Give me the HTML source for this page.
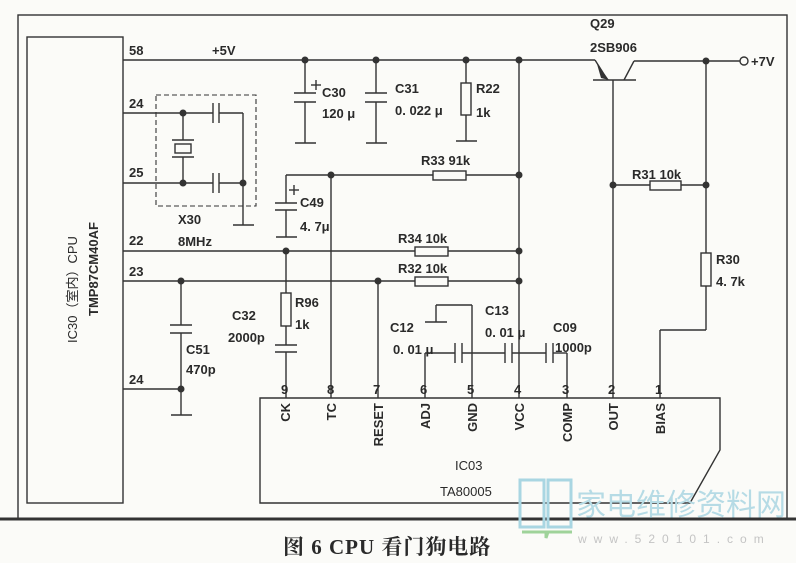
<!DOCTYPE html>
<html><head><meta charset="utf-8"><style>
html,body{margin:0;padding:0;background:#fbfbf8;}
svg{display:block}
text{font-family:"Liberation Sans","Noto Sans CJK SC",sans-serif;fill:#2a2a2a;font-size:13px;font-weight:bold;}
</style></head><body>
<svg width="796" height="563" viewBox="0 0 796 563" xmlns="http://www.w3.org/2000/svg">
<g stroke="#333" stroke-width="1.4" fill="none">
<rect x="18" y="15" width="769" height="504"/>
<line x1="0" y1="519" x2="796" y2="519" stroke-width="3"/>
<rect x="27" y="37" width="96" height="466"/>
<line x1="123" y1="60" x2="595" y2="60"/>
<line x1="305" y1="60" x2="305" y2="93"/><line x1="294" y1="93" x2="316" y2="93"/><line x1="294" y1="102" x2="316" y2="102"/><line x1="305" y1="102" x2="305" y2="143"/><line x1="295" y1="143" x2="316" y2="143"/>
<line x1="311" y1="85" x2="321" y2="85"/><line x1="316" y1="80" x2="316" y2="90"/>
<line x1="376" y1="60" x2="376" y2="93"/><line x1="365" y1="93" x2="387" y2="93"/><line x1="365" y1="102" x2="387" y2="102"/><line x1="376" y1="102" x2="376" y2="143"/><line x1="366" y1="143" x2="387" y2="143"/>
<line x1="466" y1="60" x2="466" y2="141"/><rect x="461" y="83" width="10" height="32" fill="#fbfbf8"/><line x1="456" y1="141" x2="477" y2="141"/>
<line x1="519" y1="60" x2="519" y2="398"/>
<line x1="595" y1="60" x2="607" y2="79"/><line x1="593" y1="80" x2="636" y2="80"/><line x1="624" y1="80" x2="634" y2="61"/>
<line x1="634" y1="61" x2="740" y2="61"/>
<circle cx="744" cy="61" r="4"/>
<line x1="613" y1="80" x2="613" y2="398"/>
<line x1="613" y1="185" x2="706" y2="185"/><rect x="650" y="181" width="31" height="9" fill="#fbfbf8"/>
<line x1="706" y1="61" x2="706" y2="330"/><rect x="701" y="253" width="10" height="33" fill="#fbfbf8"/>
<line x1="706" y1="330" x2="660" y2="330"/><line x1="660" y1="330" x2="660" y2="398"/>
<line x1="123" y1="113" x2="213" y2="113"/><line x1="123" y1="183" x2="213" y2="183"/>
<line x1="213" y1="103" x2="213" y2="123"/><line x1="219" y1="103" x2="219" y2="123"/>
<line x1="213" y1="173" x2="213" y2="193"/><line x1="219" y1="173" x2="219" y2="193"/>
<line x1="219" y1="113" x2="243" y2="113"/><line x1="243" y1="113" x2="243" y2="225"/><line x1="219" y1="183" x2="243" y2="183"/>
<line x1="233" y1="225" x2="254" y2="225"/>
<line x1="183" y1="113" x2="183" y2="140"/><line x1="183" y1="157" x2="183" y2="183"/>
<line x1="172" y1="140" x2="194" y2="140"/><line x1="172" y1="157" x2="194" y2="157"/><rect x="175" y="144" width="16" height="9"/>
<rect x="156" y="95" width="100" height="111" stroke-dasharray="5,3" stroke-width="1.1"/>
<line x1="286" y1="175" x2="519" y2="175"/><rect x="433" y="171" width="33" height="9" fill="#fbfbf8"/>
<line x1="286" y1="175" x2="286" y2="203"/><line x1="275" y1="203" x2="297" y2="203"/><line x1="275" y1="210" x2="297" y2="210"/><line x1="286" y1="210" x2="286" y2="237"/><line x1="276" y1="237" x2="297" y2="237"/>
<line x1="289" y1="190" x2="299" y2="190"/><line x1="294" y1="185" x2="294" y2="195"/>
<line x1="331" y1="175" x2="331" y2="398"/>
<line x1="123" y1="251" x2="519" y2="251"/><rect x="415" y="247" width="33" height="9" fill="#fbfbf8"/>
<line x1="286" y1="251" x2="286" y2="345"/><rect x="281" y="293" width="10" height="33" fill="#fbfbf8"/>
<line x1="275" y1="345" x2="297" y2="345"/><line x1="275" y1="352" x2="297" y2="352"/><line x1="286" y1="352" x2="286" y2="398"/>
<line x1="123" y1="281" x2="519" y2="281"/><rect x="415" y="277" width="33" height="9" fill="#fbfbf8"/>
<line x1="181" y1="281" x2="181" y2="325"/><line x1="170" y1="325" x2="192" y2="325"/><line x1="170" y1="333" x2="192" y2="333"/><line x1="181" y1="333" x2="181" y2="415"/><line x1="171" y1="415" x2="192" y2="415"/>
<line x1="123" y1="389" x2="181" y2="389"/>
<line x1="378" y1="281" x2="378" y2="398"/>
<line x1="425" y1="398" x2="425" y2="353"/><line x1="425" y1="353" x2="455" y2="353"/>
<line x1="455" y1="343" x2="455" y2="363"/><line x1="462" y1="343" x2="462" y2="363"/>
<line x1="462" y1="353" x2="505" y2="353"/>
<line x1="505" y1="343" x2="505" y2="363"/><line x1="512" y1="343" x2="512" y2="363"/>
<line x1="512" y1="353" x2="546" y2="353"/>
<line x1="546" y1="343" x2="546" y2="363"/><line x1="553" y1="343" x2="553" y2="363"/>
<line x1="553" y1="353" x2="567" y2="353"/><line x1="567" y1="353" x2="567" y2="398"/>
<line x1="472" y1="398" x2="472" y2="305"/><line x1="472" y1="305" x2="436" y2="305"/><line x1="436" y1="305" x2="436" y2="322"/><line x1="425" y1="322" x2="447" y2="322"/>
<path d="M260 398 H720 V450 L690 503 H260 Z"/>
</g>
<polygon points="597,64 609,80 601,78" fill="#333"/>
<g fill="#333">
<circle cx="305" cy="60" r="3.5"/><circle cx="376" cy="60" r="3.5"/><circle cx="466" cy="60" r="3.5"/><circle cx="519" cy="60" r="3.5"/>
<circle cx="706" cy="61" r="3.5"/><circle cx="613" cy="185" r="3.5"/><circle cx="706" cy="185" r="3.5"/>
<circle cx="183" cy="113" r="3.5"/><circle cx="183" cy="183" r="3.5"/><circle cx="243" cy="183" r="3.5"/>
<circle cx="331" cy="175" r="3.5"/><circle cx="519" cy="175" r="3.5"/><circle cx="286" cy="251" r="3.5"/><circle cx="519" cy="251" r="3.5"/>
<circle cx="181" cy="281" r="3.5"/><circle cx="378" cy="281" r="3.5"/><circle cx="519" cy="281" r="3.5"/><circle cx="181" cy="389" r="3.5"/>
</g>
<text x="129" y="55">58</text><text x="212" y="55">+5V</text>
<text x="129" y="108">24</text><text x="129" y="177">25</text><text x="129" y="245">22</text><text x="129" y="276">23</text><text x="129" y="384">24</text>
<text transform="translate(77,343) rotate(-90)" style="font-weight:normal">IC30（室内）CPU</text>
<text transform="translate(98,316) rotate(-90)">TMP87CM40AF</text>
<text x="322" y="97">C30</text><text x="322" y="118">120 μ</text>
<text x="395" y="93">C31</text><text x="395" y="115">0. 022 μ</text>
<text x="476" y="93">R22</text><text x="476" y="117">1k</text>
<text x="590" y="28">Q29</text><text x="590" y="52">2SB906</text><text x="751" y="66">+7V</text>
<text x="178" y="224">X30</text><text x="178" y="246">8MHz</text>
<text x="421" y="165">R33  91k</text>
<text x="300" y="207">C49</text><text x="300" y="231">4. 7μ</text>
<text x="398" y="243">R34  10k</text><text x="398" y="273">R32  10k</text>
<text x="632" y="179">R31  10k</text>
<text x="716" y="264">R30</text><text x="716" y="286">4. 7k</text>
<text x="295" y="307">R96</text><text x="295" y="329">1k</text>
<text x="232" y="320">C32</text><text x="228" y="342">2000p</text>
<text x="186" y="354">C51</text><text x="186" y="374">470p</text>
<text x="390" y="332">C12</text><text x="393" y="354">0. 01 μ</text>
<text x="485" y="315">C13</text><text x="485" y="337">0. 01 μ</text>
<text x="553" y="332">C09</text><text x="555" y="352">1000p</text>
<g><text x="281" y="394">9</text><text x="327" y="394">8</text><text x="373" y="394">7</text><text x="420" y="394">6</text><text x="467" y="394">5</text><text x="514" y="394">4</text><text x="562" y="394">3</text><text x="608" y="394">2</text><text x="655" y="394">1</text></g>
<g text-anchor="end">
<text transform="translate(290,403) rotate(-90)">CK</text>
<text transform="translate(336,403) rotate(-90)">TC</text>
<text transform="translate(383,403) rotate(-90)">RESET</text>
<text transform="translate(430,403) rotate(-90)">ADJ</text>
<text transform="translate(477,403) rotate(-90)">GND</text>
<text transform="translate(524,403) rotate(-90)">VCC</text>
<text transform="translate(572,403) rotate(-90)">COMP</text>
<text transform="translate(618,403) rotate(-90)">OUT</text>
<text transform="translate(665,403) rotate(-90)">BIAS</text>
</g>
<text x="455" y="470" style="font-weight:normal">IC03</text><text x="440" y="496" style="font-weight:normal">TA80005</text>
<g stroke="#a9d6e2" stroke-width="3" fill="none"><path d="M520 480 H544 V527 H520 Z M548 480 H571 V527 H548 Z"/></g>
<path d="M522 532 L546 532 L546 538 L548 532 L572 532" stroke="#9fd39a" stroke-width="3" fill="none"/>
<text x="576" y="515" style="font-size:30px;font-weight:normal;fill:#b6dbe5">家电维修资料网</text>
<text x="578" y="543" style="font-size:12px;font-weight:normal;fill:#c4c4c4;letter-spacing:7px">www.520101.com</text>
<text x="283" y="554" style="font-size:21px;font-weight:bold;letter-spacing:1px;font-family:'Liberation Serif','Noto Serif CJK SC',serif">图 6  CPU 看门狗电路</text>
</svg>
</body></html>
